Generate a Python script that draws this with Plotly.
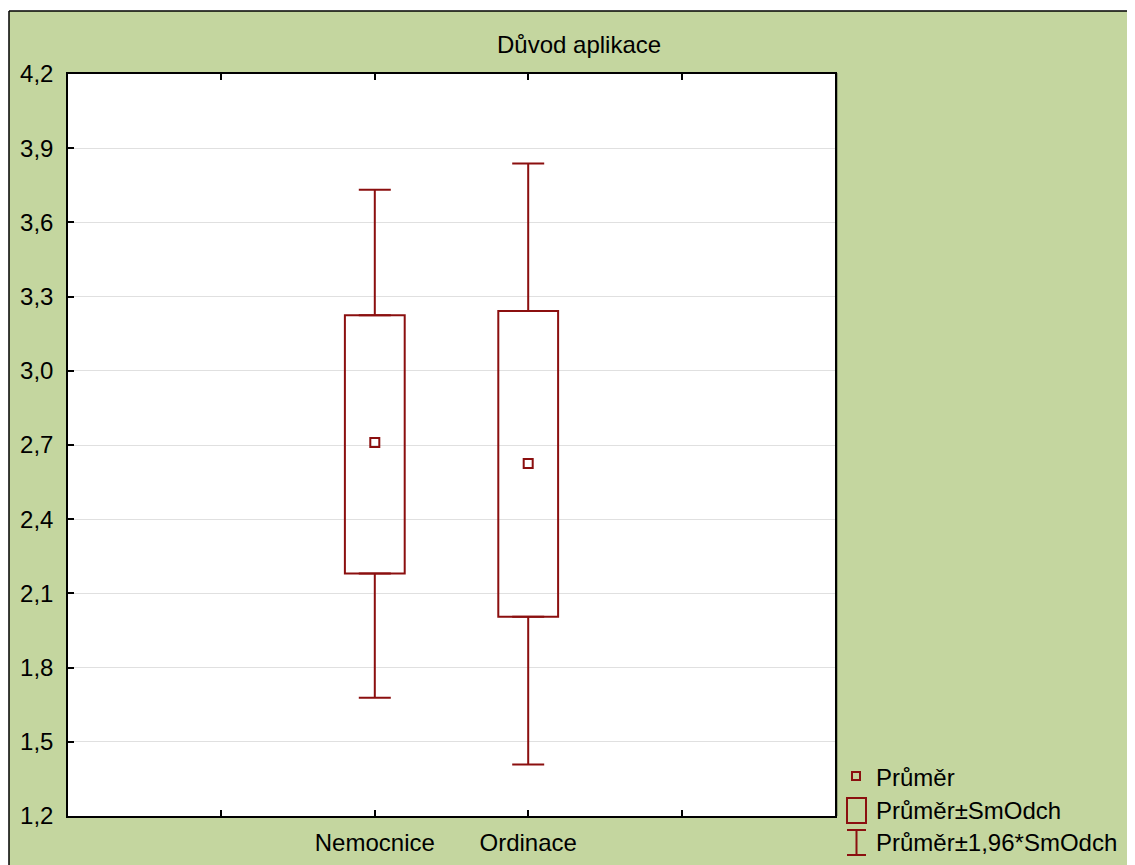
import plotly.graph_objects as go

# ---- data ----
categories = ["Nemocnice", "Ordinace"]
cat_pos = [2, 3]
mean_vals = [2.71, 2.625]
box_low = [2.18, 2.006]
box_high = [3.225, 3.242]
whisk_low = [1.678, 1.408]
whisk_high = [3.732, 3.838]

y_ticks = [1.2, 1.5, 1.8, 2.1, 2.4, 2.7, 3.0, 3.3, 3.6, 3.9, 4.2]
x_tickvals = [1, 2, 3, 4]
x_ticktext = ["", "Nemocnice", "Ordinace", ""]

RED = "#8B0F0F"
GREEN = "#C4D69F"
FONT = "Liberation Sans, Arial, sans-serif"
FS = 24

OFF = 8  # page body margin
W, H = 1135, 865
# plot area in page pixels: x 68..835, y 74..816
ML, MR, MT, MB = 68 - OFF, W - (835 - OFF), 74 - OFF, H - (816 - OFF)
PW = W - ML - MR
PH = H - MT - MB


def px(x):  # page pixel -> paper x
    return (x - OFF - ML) / PW


def py(y):  # page pixel -> paper y
    return (H - MB - (y - OFF)) / PH


fig = go.Figure()

# whiskers (from box edges outward)
fig.add_trace(go.Scatter(
    x=cat_pos, y=box_high, mode="markers", marker=dict(size=0.1, color=RED),
    error_y=dict(type="data", symmetric=False,
                 array=[h - b for h, b in zip(whisk_high, box_high)],
                 arrayminus=[0, 0], color=RED, thickness=2, width=16),
    showlegend=False, hoverinfo="skip"))
fig.add_trace(go.Scatter(
    x=cat_pos, y=box_low, mode="markers", marker=dict(size=0.1, color=RED),
    error_y=dict(type="data", symmetric=False,
                 array=[0, 0],
                 arrayminus=[b - l for b, l in zip(box_low, whisk_low)],
                 color=RED, thickness=2, width=16),
    showlegend=False, hoverinfo="skip"))

# boxes (mean ± SD)
fig.add_trace(go.Bar(
    x=cat_pos, base=box_low, y=[h - l for h, l in zip(box_high, box_low)],
    width=0.39, marker=dict(color="rgba(255,255,255,0)", line=dict(color=RED, width=2)),
    showlegend=False, hoverinfo="skip"))

# means
fig.add_trace(go.Scatter(
    x=cat_pos, y=mean_vals, mode="markers",
    marker=dict(symbol="square-open", size=9, color=RED, line=dict(width=2, color=RED)),
    showlegend=False))

shapes = []
# green background (no border) plus top/left border lines
shapes.append(dict(type="rect", xref="paper", yref="paper", layer="below",
                   x0=px(9), x1=px(W + 40), y0=py(H + 40), y1=py(11),
                   fillcolor=GREEN, line=dict(width=0)))
shapes.append(dict(type="line", xref="paper", yref="paper", layer="below",
                   x0=px(9), x1=px(W + 40), y0=py(11), y1=py(11),
                   line=dict(color="black", width=1.5)))
shapes.append(dict(type="line", xref="paper", yref="paper", layer="below",
                   x0=px(9), x1=px(9), y0=py(11), y1=py(H + 40),
                   line=dict(color="black", width=1.5)))
# white plot area
shapes.append(dict(type="rect", xref="paper", yref="paper", layer="below",
                   x0=0, x1=1, y0=0, y1=1, fillcolor="white", line=dict(width=0)))
# plot shadow line on the right
shapes.append(dict(type="line", xref="paper", yref="paper",
                   x0=px(836.5), x1=px(836.5), y0=py(816), y1=py(73),
                   line=dict(color="black", width=1.5)))

# legend icons
shapes.append(dict(type="rect", xref="paper", yref="paper",
                   x0=px(852), x1=px(860), y0=py(780), y1=py(772),
                   line=dict(color=RED, width=2)))
shapes.append(dict(type="rect", xref="paper", yref="paper",
                   x0=px(847), x1=px(866), y0=py(823), y1=py(798),
                   line=dict(color=RED, width=2)))
shapes.append(dict(type="line", xref="paper", yref="paper",
                   x0=px(856.5), x1=px(856.5), y0=py(855), y1=py(830),
                   line=dict(color=RED, width=2)))
shapes.append(dict(type="line", xref="paper", yref="paper",
                   x0=px(847), x1=px(866), y0=py(830), y1=py(830),
                   line=dict(color=RED, width=2)))
shapes.append(dict(type="line", xref="paper", yref="paper",
                   x0=px(847), x1=px(866), y0=py(855), y1=py(855),
                   line=dict(color=RED, width=2)))

legend_labels = ["Průměr", "Průměr±SmOdch", "Průměr±1,96*SmOdch"]
legend_y = [777, 810, 843]
annotations = []
for lab, yy in zip(legend_labels, legend_y):
    annotations.append(dict(text=lab, xref="paper", yref="paper", x=px(874), y=py(yy),
                            xanchor="left", yanchor="middle", showarrow=False,
                            font=dict(size=FS, color="black", family=FONT)))
annotations.append(dict(text="Důvod aplikace", xref="paper", yref="paper", x=px(579), y=py(45),
                        xanchor="center", yanchor="middle", showarrow=False,
                        font=dict(size=FS, color="black", family=FONT)))

fig.update_layout(
    width=W, height=H,
    margin=dict(l=ML, r=MR, t=MT, b=MB, pad=0),
    paper_bgcolor="white", plot_bgcolor="white",
    separators=", ",
    font=dict(family=FONT, size=FS, color="black"),
    shapes=shapes, annotations=annotations,
    showlegend=False, barmode="overlay",
    xaxis=dict(range=[0, 5], tickvals=x_tickvals, ticktext=x_ticktext,
               showgrid=False, zeroline=False, showline=True, linecolor="black", linewidth=1.5,
               mirror="ticks", ticks="inside", ticklen=6, tickcolor="black", tickwidth=1.5,
               tickfont=dict(size=FS), ticklabelstandoff=4),
    yaxis=dict(range=[1.2, 4.2], tickvals=y_ticks, tickformat=".1f",
               showgrid=True, gridcolor="#E0E0E0", gridwidth=1, zeroline=False,
               showline=True, linecolor="black", linewidth=1.5, mirror=True,
               ticks="inside", ticklen=6, tickcolor="black", tickwidth=1.5,
               tickfont=dict(size=FS), ticklabelstandoff=8),
)

fig.write_html("out.html")
